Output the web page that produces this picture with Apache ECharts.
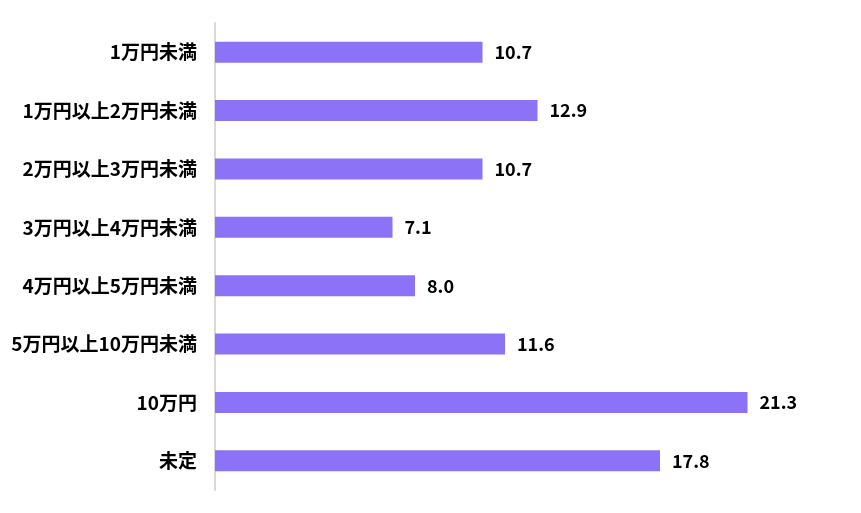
<!DOCTYPE html>
<html><head><meta charset="utf-8">
<script src="https://cdn.jsdelivr.net/npm/echarts@6/dist/echarts.min.js"></script>
<style>html,body{margin:0;padding:0;background:#fff}#c{width:861px;height:513px}</style>
</head><body><div id="c"></div>
<script>
const categories = ["1万円未満","1万円以上2万円未満","2万円以上3万円未満","3万円以上4万円未満","4万円以上5万円未満","5万円以上10万円未満","10万円","未定"];
const values = [10.7, 12.9, 10.7, 7.1, 8.0, 11.6, 21.3, 17.8];
const chart = echarts.init(document.getElementById('c'));
chart.setOption({
  animation: false,
  grid: {left: 215, top: 23, width: 625, height: 467},
  xAxis: {type: 'value', min: 0, max: 25, show: false},
  yAxis: {type: 'category', data: categories, inverse: true,
    axisLine: {lineStyle: {color: '#D9D9D9', width: 2}},
    axisTick: {show: false},
    axisLabel: {margin: 18, color: '#000', fontSize: 19, fontWeight: 'bold', fontFamily: '"Noto Sans CJK JP", sans-serif'}},
  series: [{type: 'bar', data: values, barWidth: 21,
    itemStyle: {color: '#8B72F6'},
    label: {show: true, position: 'right', distance: 12, color: '#000', fontSize: 18, fontWeight: 'bold', fontFamily: '"Noto Sans CJK JP", sans-serif',
      formatter: p => p.value.toFixed(1)}}]
});
</script></body></html>
